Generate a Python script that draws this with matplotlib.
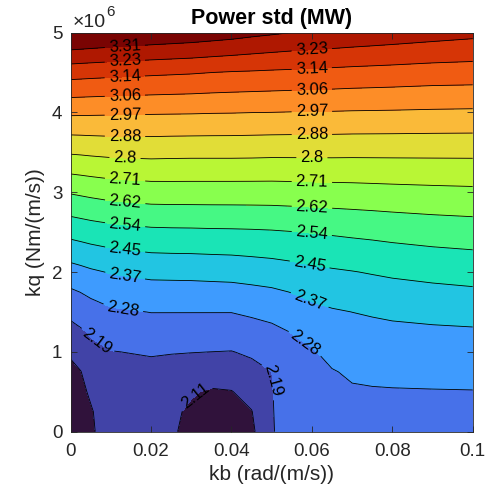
import numpy as np
import matplotlib.pyplot as plt
from matplotlib.ticker import FuncFormatter

plt.rcParams['font.family'] = ['Liberation Sans', 'DejaVu Sans']

# GRID
kb = [0, 0.0025, 0.005, 0.01, 0.02, 0.025, 0.03, 0.035, 0.04, 0.045, 0.05,
      0.055, 0.06, 0.065, 0.07, 0.075, 0.08, 0.09, 0.1]
kq = [0, 0.25e6, 0.5e6, 0.75e6, 1.0e6, 1.25e6, 1.5e6, 1.75e6, 2.0e6,
      2.5e6, 3.0e6, 3.5e6, 4.0e6, 4.5e6, 5.0e6]

# power std (MW), one list per kb column, bottom -> top in kq
power_std = [
    [2.030, 2.045, 2.065, 2.088, 2.118, 2.165, 2.215, 2.268, 2.331, 2.478, 2.631, 2.805, 2.984, 3.176, 3.420],
    [2.065, 2.075, 2.090, 2.105, 2.143, 2.183, 2.231, 2.281, 2.342, 2.486, 2.638, 2.808, 2.983, 3.173, 3.415],
    [2.095, 2.100, 2.118, 2.145, 2.172, 2.202, 2.247, 2.295, 2.354, 2.494, 2.645, 2.812, 2.982, 3.170, 3.410],
    [2.150, 2.155, 2.163, 2.175, 2.191, 2.229, 2.268, 2.317, 2.371, 2.506, 2.657, 2.818, 2.980, 3.165, 3.400],
    [2.140, 2.147, 2.158, 2.172, 2.200, 2.240, 2.281, 2.331, 2.388, 2.520, 2.669, 2.822, 2.977, 3.156, 3.384],
    [2.115, 2.120, 2.135, 2.165, 2.197, 2.239, 2.281, 2.331, 2.390, 2.522, 2.670, 2.820, 2.976, 3.152, 3.377],
    [2.090, 2.096, 2.114, 2.157, 2.195, 2.238, 2.281, 2.332, 2.391, 2.523, 2.670, 2.819, 2.975, 3.148, 3.370],
    [2.065, 2.075, 2.098, 2.150, 2.193, 2.237, 2.281, 2.334, 2.394, 2.525, 2.670, 2.819, 2.973, 3.142, 3.360],
    [2.060, 2.075, 2.104, 2.147, 2.191, 2.236, 2.281, 2.336, 2.397, 2.526, 2.670, 2.819, 2.972, 3.137, 3.350],
    [2.090, 2.104, 2.136, 2.169, 2.205, 2.247, 2.292, 2.344, 2.404, 2.528, 2.670, 2.818, 2.970, 3.134, 3.336],
    [2.188, 2.189, 2.190, 2.193, 2.227, 2.261, 2.303, 2.353, 2.411, 2.531, 2.670, 2.816, 2.969, 3.130, 3.325],
    [2.225, 2.229, 2.235, 2.243, 2.255, 2.282, 2.325, 2.368, 2.421, 2.536, 2.672, 2.816, 2.967, 3.127, 3.314],
    [2.235, 2.240, 2.247, 2.257, 2.272, 2.307, 2.344, 2.387, 2.433, 2.541, 2.674, 2.816, 2.966, 3.123, 3.307],
    [2.245, 2.252, 2.262, 2.275, 2.302, 2.330, 2.358, 2.399, 2.442, 2.547, 2.676, 2.816, 2.965, 3.120, 3.300],
    [2.255, 2.262, 2.272, 2.289, 2.314, 2.339, 2.366, 2.407, 2.449, 2.553, 2.678, 2.815, 2.963, 3.116, 3.292],
    [2.258, 2.264, 2.274, 2.294, 2.319, 2.344, 2.373, 2.415, 2.457, 2.558, 2.681, 2.815, 2.962, 3.113, 3.285],
    [2.260, 2.266, 2.275, 2.297, 2.323, 2.348, 2.380, 2.422, 2.465, 2.564, 2.684, 2.815, 2.961, 3.110, 3.278],
    [2.262, 2.268, 2.276, 2.301, 2.327, 2.353, 2.388, 2.432, 2.476, 2.574, 2.689, 2.815, 2.958, 3.103, 3.264],
    [2.263, 2.269, 2.277, 2.303, 2.330, 2.356, 2.395, 2.440, 2.484, 2.581, 2.693, 2.815, 2.956, 3.100, 3.251],
]

# contour levels
levels = [2.1070, 2.1932, 2.2794, 2.3656, 2.4518, 2.5380, 2.6242, 2.7104,
          2.7966, 2.8828, 2.9690, 3.0552, 3.1414, 3.2276, 3.3138]

xticks = [0, 0.02, 0.04, 0.06, 0.08, 0.1]
yticks = [0, 1e6, 2e6, 3e6, 4e6, 5e6]

# label spots along the lines (kb, kq)
label_spots = [
    (0.0135, 4.81e6), (0.0135, 4.61e6), (0.0135, 4.38e6), (0.0135, 4.165e6),
    (0.0135, 3.92e6), (0.0135, 3.65e6), (0.0135, 3.43e6), (0.0135, 3.14e6),
    (0.0135, 2.846e6), (0.0135, 2.578e6), (0.0135, 2.265e6), (0.0135, 1.94e6),
    (0.013, 1.53e6), (0.0065, 1.13e6), (0.0317, 0.40e6),
    (0.060, 4.78e6), (0.060, 4.515e6), (0.060, 4.277e6), (0.060, 3.99e6),
    (0.060, 3.713e6), (0.060, 3.44e6), (0.060, 3.14e6), (0.060, 2.796e6),
    (0.0595, 2.11e6), (0.060, 2.49e6), (0.060, 1.711e6), (0.0583, 1.106e6),
    (0.0504, 0.647e6),
]

X, Y = np.meshgrid(kb, kq)
Z = np.array(power_std).T

dark = '#262626'
fig = plt.figure(figsize=(4.88, 4.97), dpi=100)
ax = fig.add_axes([0.1449, 0.1314, 0.8237, 0.8032])

fill_levels = [1.9] + levels + [3.6]
band_colors = plt.get_cmap('turbo')(np.linspace(0, 1, len(fill_levels) - 1))
ax.contourf(X, Y, Z, levels=fill_levels, colors=band_colors)
cs = ax.contour(X, Y, Z, levels=levels, colors='k', linewidths=0.6)
ax.clabel(cs, manual=label_spots, inline=True, inline_spacing=4,
          fmt=lambda v: f"{v:.3g}", fontsize=12, colors='k')

ax.set_xlim(0, 0.1)
ax.set_ylim(0, 5e6)
ax.set_xticks(xticks)
ax.set_yticks(yticks)
ax.xaxis.set_major_formatter(FuncFormatter(lambda v, p: f"{v:g}"))
ax.yaxis.set_major_formatter(FuncFormatter(lambda v, p: f"{v / 1e6:g}"))
ax.tick_params(direction='in', length=4, width=0.6, colors=dark,
               labelsize=13.5, top=True, right=True)
ax.tick_params(axis='x', pad=8)
ax.tick_params(axis='y', pad=6)
for s in ax.spines.values():
    s.set_color(dark)
    s.set_linewidth(0.6)

# exponent marker above the y axis
fig.text(73 / 488, 1 - 27.3 / 497, "\u00d710", fontsize=14, color=dark,
         ha='left', va='baseline')
fig.text(106 / 488, 1 - 15.7 / 497, "6", fontsize=11, color=dark,
         ha='left', va='baseline')

ax.set_xlabel("kb (rad/(m/s))", fontsize=15, color=dark, labelpad=4)
ax.set_ylabel("kq (Nm/(m/s))", fontsize=15, color=dark, labelpad=5)
ax.set_title("Power std (MW)", fontsize=15.5, fontweight='bold', color='k', pad=6)

plt.savefig("out.png", dpi=100)
